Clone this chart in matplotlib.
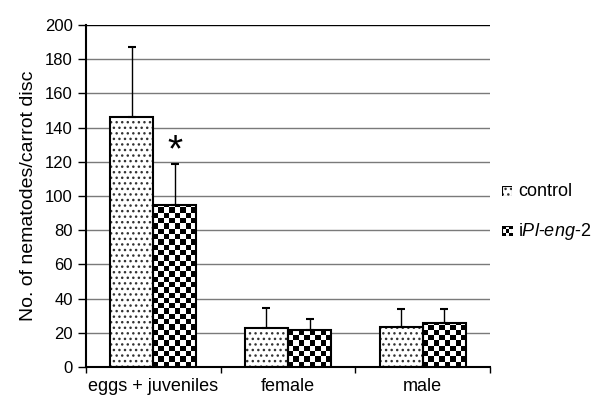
import numpy as np
import matplotlib
matplotlib.use("Agg")
import matplotlib.pyplot as plt
from matplotlib.patches import Rectangle

plt.rcParams['font.family'] = 'Liberation Sans'
plt.rcParams['mathtext.fontset'] = 'custom'
plt.rcParams['mathtext.rm'] = 'Liberation Sans'
plt.rcParams['mathtext.it'] = 'Liberation Sans:italic'
plt.rcParams['hatch.linewidth'] = 1.0

categories = ["eggs + juveniles", "female", "male"]
control = [146, 22.8, 23.4]
control_err = [41, 11.5, 10.5]
ipl = [95, 21.6, 25.7]
ipl_err = [24, 6.5, 8.5]
series_labels = ["control", r"i$\it{Pl}$-$\it{eng}$-$\it{2}$"]

fig = plt.figure(figsize=(6.11, 4.08), dpi=100)
ax = fig.add_axes([0.1408, 0.1005, 0.6612, 0.8382])

x = np.arange(len(categories))
w = 0.32

# gridlines
for yv in range(20, 201, 20):
    ax.axhline(yv, color='#7a7a7a' if yv < 200 else 'k', lw=1.0, zorder=0)

# control bars: dotted hatch
ax.bar(x - w/2, control, w, color='white', edgecolor='#333333', hatch='...',
       lw=0, zorder=2)
ax.bar(x - w/2, control, w, fill=False, edgecolor='k', lw=1.5, zorder=4)

# iPl bars: checkerboard via clipped images
cell_px = 5.3
px_per_unit = 0.8382 * 408 / 200
for xi, h in zip(x + w/2, ipl):
    rect = Rectangle((xi - w/2, 0), w, h, fill=False, edgecolor='k', lw=1.5, zorder=4)
    ax.add_patch(rect)
    ncols = 8
    cell_y = cell_px / px_per_unit
    nrows = int(np.ceil(h / cell_y))
    chk = (np.add.outer(np.arange(nrows), np.arange(ncols)) % 2).astype(float)
    im = ax.imshow(chk[::-1], cmap='gray', interpolation='nearest', aspect='auto',
                   extent=(xi - w/2, xi + w/2, 0, nrows * cell_y), zorder=3)
    clip = Rectangle((xi - w/2, 0), w, h, transform=ax.transData)
    im.set_clip_path(clip)

ax.set_xlim(-0.5, 2.5)
ax.set_ylim(0, 200)

# error bars (upper only)
ax.errorbar(x - w/2, control, yerr=[np.zeros(3), control_err], fmt='none',
            ecolor='k', elinewidth=1, capsize=3, capthick=1.5, zorder=5)
ax.errorbar(x + w/2, ipl, yerr=[np.zeros(3), ipl_err], fmt='none',
            ecolor='k', elinewidth=1, capsize=3, capthick=1.5, zorder=5)

ax.text(x[0] + w/2, 126, '*', ha='center', va='center', fontsize=28)

ax.set_yticks(range(0, 201, 20))
ax.tick_params(axis='y', labelsize=12, length=6, width=1, direction='out')
ax.set_xticks(x)
ax.set_xticklabels(categories, fontsize=13)
ax.tick_params(axis='x', length=0, pad=8)
# category boundary ticks
ax.set_xticks([-0.5, 0.5, 1.5, 2.5], minor=True)
ax.tick_params(axis='x', which='minor', length=4, width=1, direction='out')

ax.spines['top'].set_visible(False)
ax.spines['right'].set_visible(False)
ax.spines['left'].set_linewidth(1.5)
ax.spines['bottom'].set_linewidth(1.5)
ax.set_ylabel("No. of nematodes/carrot disc", fontsize=14, labelpad=6)

# legend drawn by hand
kax1 = fig.add_axes([0.8216, 0.5196, 0.0164, 0.0245])
kax1.add_patch(Rectangle((0, 0), 1, 1, facecolor='white', edgecolor='#333333',
                         hatch='...', lw=0, transform=kax1.transAxes))
kax1.add_patch(Rectangle((0, 0), 1, 1, fill=False, edgecolor='k', lw=0.8,
                         transform=kax1.transAxes))
kax1.set_axis_off()
kax2 = fig.add_axes([0.8216, 0.4216, 0.0164, 0.0245])
chk3 = (np.add.outer(np.arange(3), np.arange(3)) % 2).astype(float)
kax2.imshow(chk3, cmap='gray', interpolation='nearest', aspect='auto')
kax2.add_patch(Rectangle((0, 0), 1, 1, fill=False, edgecolor='k', lw=0.8,
                         transform=kax2.transAxes))
kax2.set_axis_off()
fig.text(518/611, 1 - 191/408, series_labels[0], fontsize=13, va='center')
fig.text(518/611, 1 - 232/408, series_labels[1], fontsize=13, va='center')

fig.savefig("out.png", dpi=100)
